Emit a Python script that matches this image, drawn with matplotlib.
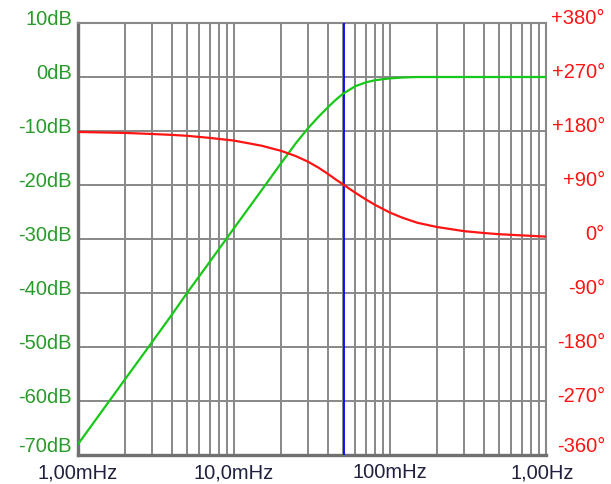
import numpy as np
import matplotlib.pyplot as plt

# frequencies (Hz)
freq_mag = [0.001, 0.002, 0.003, 0.004, 0.005, 0.007, 0.010, 0.015, 0.020, 0.025,
            0.030, 0.035, 0.040, 0.045, 0.050, 0.060, 0.070, 0.080, 0.100, 0.120,
            0.150, 1.0]
mag_db = [-68, -56, -49, -44, -40, -34.2, -28, -21, -16, -12.2,
          -9.4, -7.3, -5.6, -4.2, -3.1, -1.7, -1.0, -0.6, -0.25, -0.1,
          0, 0]

freq_ph = [0.001, 0.002, 0.003, 0.004, 0.005, 0.007, 0.010, 0.015, 0.020, 0.025,
           0.030, 0.035, 0.040, 0.045, 0.050, 0.060, 0.070, 0.080, 0.100, 0.120,
           0.150, 0.200, 0.300, 0.400, 0.500, 0.700, 1.0]
phase_deg = [178.4, 176.8, 175, 173.5, 172, 168.5, 164, 155.5, 147, 138,
             128.5, 118.5, 108.5, 99, 91, 77, 66, 57, 44, 35.5,
             27, 20, 13, 10, 8, 6, 4]

cursor_freq = 0.0505

db_ticks = [10, 0, -10, -20, -30, -40, -50, -60, -70]
db_labels = ['10dB', '0dB', '-10dB', '-20dB', '-30dB', '-40dB', '-50dB', '-60dB', '-70dB']
deg_labels = ['+380°', '+270°', '+180°', '+90°', '0°', '-90°', '-180°', '-270°', '-360°']
x_ticks = [0.001, 0.01, 0.1, 1.0]
x_labels = ['1,00mHz', '10,0mHz', '100mHz', '1,00Hz']

green = '#18c818'
red = '#ff1414'
grid_col = '#888888'
fs = 14.5
plt.rcParams['font.family'] = ['Liberation Sans', 'DejaVu Sans']

fig = plt.figure(figsize=(6.11, 4.85), dpi=100)
ax = fig.add_axes([78 / 611, 1 - 456 / 485, 468 / 611, 432 / 485])
ax.set_xscale('log')
ax.set_xlim(0.001, 1.0)
ax.set_ylim(-70, 10)

# grid: decades with 2..9 subdivisions, 10 dB rows
minor = [m * d for d in [0.001, 0.01, 0.1] for m in range(1, 10)]
for xv in minor[1:]:
    ax.axvline(xv, color=grid_col, lw=1.4, zorder=1)
for yv in db_ticks[1:-1]:
    ax.axhline(yv, color=grid_col, lw=1.4, zorder=1)

ax.set_xticks([])
ax.set_yticks([])
ax.minorticks_off()
for side in ['top', 'right']:
    ax.spines[side].set_color(grid_col)
    ax.spines[side].set_linewidth(1.5)
for side in ['left', 'bottom']:
    ax.spines[side].set_color('#707070')
    ax.spines[side].set_linewidth(2.4)

ax.axvline(cursor_freq, color='#0000ff', lw=1.3, zorder=3)
ax.plot(freq_mag, mag_db, color=green, lw=1.6, zorder=4)

ax2 = ax.twinx()
ax2.set_ylim(-360, 360)
ax2.set_yticks([])
ax2.plot(freq_ph, phase_deg, color=red, lw=1.6, zorder=4)
for side in ['top', 'right', 'left', 'bottom']:
    ax2.spines[side].set_visible(False)

# tick labels placed by hand (they sit a little above the gridlines)
for i, (v, lab) in enumerate(zip(db_ticks, db_labels)):
    last = i == len(db_ticks) - 1
    ax.annotate(lab, xy=(0, v), xycoords=('axes fraction', 'data'),
                xytext=(-6, 9 if last else 4), textcoords='offset pixels',
                ha='right', va='center', color='#2a9a2a', fontsize=fs)
    ax.annotate(deg_labels[i], xy=(1, v), xycoords=('axes fraction', 'data'),
                xytext=(59, 9 if last else 5), textcoords='offset pixels',
                ha='right', va='center', color=red, fontsize=fs)

for i, (xv, lab) in enumerate(zip(x_ticks, x_labels)):
    dx = -4 if i == len(x_ticks) - 1 else 0
    ax.annotate(lab, xy=(xv, 0), xycoords=('data', 'axes fraction'),
                xytext=(dx, -17), textcoords='offset pixels',
                ha='center', va='center', color='#202040', fontsize=fs)

fig.savefig('out.png', dpi=100)
